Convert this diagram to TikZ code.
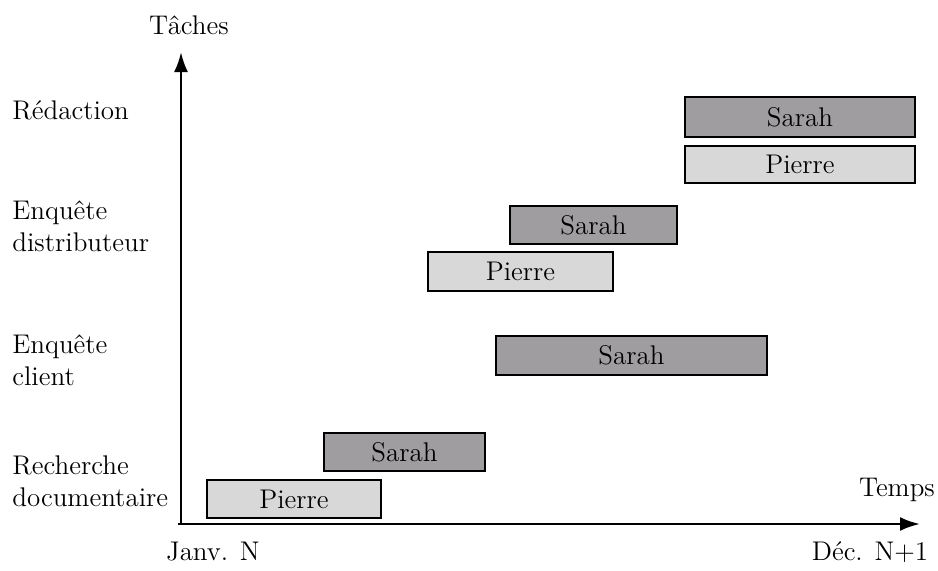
\documentclass[tikz,border=0pt]{standalone}
\usetikzlibrary{arrows.meta}
\definecolor{sarahgray}{RGB}{160,157,160}
\definecolor{pierregray}{RGB}{216,216,216}
\tikzset{
  txt/.style={font=\fontsize{13.5}{16}\selectfont},
  tache/.style={txt,anchor=west,align=left,inner sep=0pt},
  sarah/.style={draw=black,line width=1.1pt,fill=sarahgray},
  pierre/.style={draw=black,line width=1.1pt,fill=pierregray},
}
\begin{document}
\begin{tikzpicture}
        [x=0.5pt,y=-0.5pt]
        \useasboundingbox (0,0) rectangle (938,570);
        \node (O) at (181,524) {};
        \node (tmax) at (181,52) {};
        \node (xmax) at (920,524) {};

        \draw[line width=1.3pt,-{Latex[length=10pt,width=7pt]}] (O.center) -- (tmax.center);
        \draw[line width=1.3pt,-{Latex[length=10pt,width=7pt]}] (178,524) -- (xmax.center);

        \node[txt] (taches) at (189,25) {Tâches};
        \node[txt] (temps) at (897,490) {Temps};
        \node[txt] (debut) at (213,552) {Janv. N};
        \node[txt] (fin) at (870,552) {Déc. N+1};

        \node[tache] (redac) at (12,110) {Rédaction};
        \node[tache] (distrib) at (12,226) {Enquête\\distributeur};
        \node[tache] (client) at (12,360) {Enquête\\client};
        \node[tache] (recherche) at (12,481) {Recherche\\documentaire};

        \draw[sarah] (685,97) rectangle (915,137) node[midway,txt] (s4) {Sarah};
        \draw[pierre] (685,146) rectangle (915,183) node[midway,txt] (p4) {Pierre};
        \draw[sarah] (510,206) rectangle (677,244) node[midway,txt] (s3) {Sarah};
        \draw[pierre] (428,252) rectangle (613,291) node[midway,txt] (p3) {Pierre};
        \draw[sarah] (496,336) rectangle (767,375) node[midway,txt] (s2) {Sarah};
        \draw[sarah] (324,433) rectangle (485,471) node[midway,txt] (s1) {Sarah};
        \draw[pierre] (207,480) rectangle (381,518) node[midway,txt] (p1) {Pierre};
      \end{tikzpicture}
\end{document}
